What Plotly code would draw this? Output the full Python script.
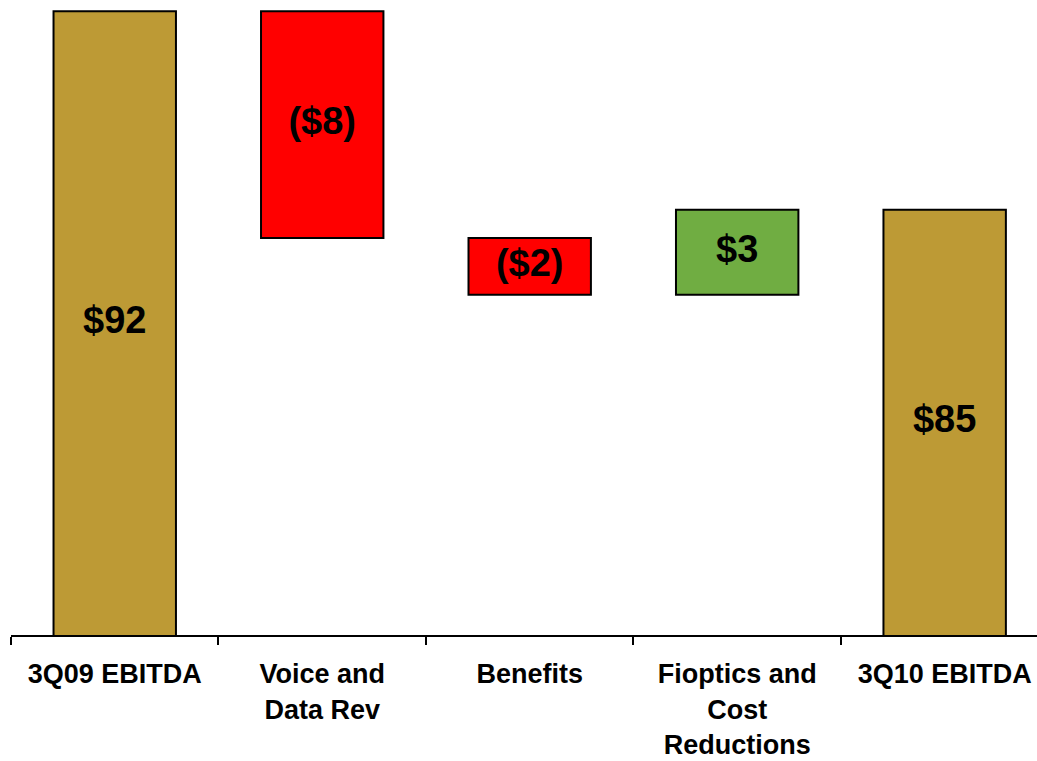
import plotly.graph_objects as go

# EBITDA bridge, 3Q09 -> 3Q10 ($ millions)
categories = ["3Q09 EBITDA", "Voice and<br>Data Rev", "Benefits", "Fioptics and<br>Cost<br>Reductions", "3Q10 EBITDA"]
measures = ["absolute", "relative", "relative", "relative", "total"]
values = [92, -8, -2, 3, 85]

AXIS_MIN, AXIS_MAX = 70, 92.15


def money(v):
    return f"(${abs(v):.0f})" if v < 0 else f"${v:.0f}"


# running level before/after each step, used to place the value labels
levels = []
running = 0
for m, v in zip(measures, values):
    if m == "absolute":
        lo, hi = 0, v
        running = v
    elif m == "relative":
        lo, hi = sorted([running, running + v])
        running += v
    else:
        lo, hi = 0, running
    levels.append((lo, hi))

label_y = [(max(lo, AXIS_MIN) + min(hi, AXIS_MAX)) / 2 for lo, hi in levels]
label_text = [money(v) if m != "total" else money(lvl[1]) for m, v, lvl in zip(measures, values, levels)]

edge = dict(color="black", width=2)

fig = go.Figure()
fig.add_trace(go.Waterfall(
    x=categories,
    y=values,
    measure=measures,
    width=0.59,
    connector=dict(visible=False),
    increasing=dict(marker=dict(color="#70AD42", line=edge)),
    decreasing=dict(marker=dict(color="#FF0000", line=edge)),
    totals=dict(marker=dict(color="#BD9A35", line=edge)),
    textinfo="none",
    hoverinfo="skip",
    showlegend=False,
))
fig.add_trace(go.Scatter(
    x=categories,
    y=label_y,
    mode="text",
    text=label_text,
    textposition="middle center",
    textfont=dict(family="Liberation Sans", size=38, color="black", weight="bold"),
    hoverinfo="skip",
    showlegend=False,
))

fig.update_layout(
    width=1037,
    height=761,
    margin=dict(l=11, r=0, t=7, b=126),
    plot_bgcolor="white",
    paper_bgcolor="white",
    xaxis=dict(
        type="category",
        range=[-0.5, 4.445],
        showline=True,
        linecolor="black",
        linewidth=2,
        ticks="outside",
        tickson="boundaries",
        ticklen=8,
        tickwidth=2,
        tickcolor="black",
        showgrid=False,
        ticklabelstandoff=14,
        tickfont=dict(family="Liberation Sans", size=27, color="black", weight="bold"),
    ),
    yaxis=dict(
        range=[AXIS_MIN, AXIS_MAX],
        showgrid=False,
        zeroline=False,
        showticklabels=False,
        showline=False,
        ticks="",
    ),
)

fig.write_html("out.html")
